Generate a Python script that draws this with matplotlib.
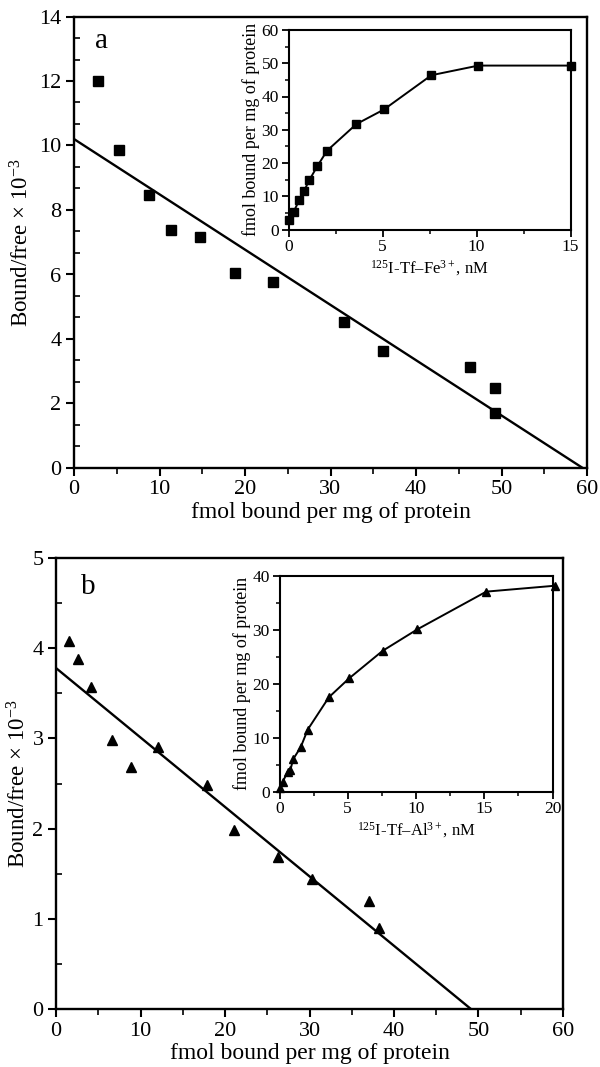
import numpy as np
import matplotlib
matplotlib.use("Agg")
import matplotlib.pyplot as plt
from matplotlib.ticker import MultipleLocator

plt.rcParams['font.family'] = ['Liberation Serif', 'DejaVu Serif']
plt.rcParams['mathtext.fontset'] = 'custom'
plt.rcParams['mathtext.rm'] = 'Liberation Serif'
plt.rcParams['mathtext.it'] = 'Liberation Serif:italic'

#%% data, panel a (Fe)
a_bound = [2.8, 5.3, 8.8, 11.3, 14.7, 18.8, 23.3, 31.6, 36.1, 46.3, 49.2, 49.2]
a_ratio = [12.0, 9.85, 8.45, 7.38, 7.16, 6.05, 5.76, 4.54, 3.64, 3.13, 2.47, 1.71]
a_fit_x = [0, 59.5]
a_fit_y = [10.2, 0]
a_conc = [0.05, 0.27, 0.57, 0.83, 1.1, 1.54, 2.05, 3.61, 5.08, 7.6, 10.1, 15.05]
a_sat = [2.8, 5.3, 8.8, 11.6, 14.8, 19.1, 23.7, 31.7, 36.1, 46.4, 49.3, 49.3]

#%% data, panel b (Al)
b_bound = [1.5, 2.6, 4.2, 6.6, 8.9, 12.1, 17.9, 21.1, 26.3, 30.3, 37.1, 38.2]
b_ratio = [4.08, 3.88, 3.57, 2.98, 2.68, 2.9, 2.48, 1.99, 1.69, 1.44, 1.2, 0.9]
b_fit_x = [0, 49.1]
b_fit_y = [3.78, 0]
b_conc = [0.05, 0.22, 0.6, 0.8, 1.0, 1.55, 2.07, 3.62, 5.1, 7.55, 10.1, 15.15, 20.2]
b_sat = [0.6, 1.7, 3.7, 4.0, 6.0, 8.2, 11.5, 17.5, 21.0, 26.1, 30.1, 37.1, 38.2]

W, H = 600, 1067


def px_axes(fig, x0, y0, x1, y1):
    # pixel box (left, top, right, bottom) -> figure fraction
    return fig.add_axes([x0 / W, 1 - y1 / H, (x1 - x0) / W, (y1 - y0) / H])


def style_main(ax, ymax, ymajor, yminor, ypad):
    ax.set_xlim(0, 60)
    ax.set_ylim(0, ymax)
    ax.xaxis.set_major_locator(MultipleLocator(10))
    ax.xaxis.set_minor_locator(MultipleLocator(5))
    ax.yaxis.set_major_locator(MultipleLocator(ymajor))
    ax.yaxis.set_minor_locator(MultipleLocator(yminor))
    ax.tick_params(which='major', direction='out', length=6, width=1.5,
                   labelsize=16, pad=3)
    ax.tick_params(axis='y', which='minor', direction='in', length=4, width=1.2)
    ax.tick_params(axis='x', which='minor', direction='out', length=4, width=1.2)
    for s in ax.spines.values():
        s.set_linewidth(1.7)
    ax.set_xlabel("fmol bound per mg of protein", fontsize=17, labelpad=2)
    ax.set_ylabel(r"Bound/free $\times$ 10$^{-3}$", fontsize=16.5, labelpad=ypad)


def style_inset(ax, xmax, ymax, xlabel):
    ax.set_xlim(0, xmax)
    ax.set_ylim(0, ymax)
    ax.xaxis.set_major_locator(MultipleLocator(5))
    ax.xaxis.set_minor_locator(MultipleLocator(2.5))
    ax.yaxis.set_major_locator(MultipleLocator(10))
    ax.yaxis.set_minor_locator(MultipleLocator(5))
    ax.tick_params(which='major', direction='out', length=5, width=1.3,
                   labelsize=12.5, pad=2)
    ax.tick_params(which='minor', direction='out', length=3, width=1.1)
    for s in ax.spines.values():
        s.set_linewidth(1.5)
    ax.set_xlabel(xlabel, fontsize=12, labelpad=2)
    ax.set_ylabel("fmol bound per mg of protein", fontsize=13, labelpad=1)


fig = plt.figure(figsize=(6, 10.67), dpi=100)

#%% panel a
ax1 = px_axes(fig, 74, 16.5, 587, 468)
ax1.plot(a_fit_x, a_fit_y, color='black', lw=1.7)
ax1.plot(a_bound, a_ratio, 's', color='black', ms=7.5)
style_main(ax1, 14, 2, 2 / 3, 4)
ax1.text(0.04, 0.975, "a", transform=ax1.transAxes, fontsize=21, va='top')

in1 = px_axes(fig, 288.5, 30, 570.5, 229.5)
in1.plot(a_conc, a_sat, '-s', color='black', lw=1.4, ms=5.5, clip_on=False)
style_inset(in1, 15, 60, r"$^{125}$I-Tf–Fe$^{3+}$, nM")

#%% panel b
ax2 = px_axes(fig, 56, 558, 563, 1009)
ax2.plot(b_fit_x, b_fit_y, color='black', lw=1.7)
ax2.plot(b_bound, b_ratio, '^', color='black', ms=7.5)
style_main(ax2, 5, 1, 0.5, 1)
ax2.text(0.05, 0.965, "b", transform=ax2.transAxes, fontsize=21, va='top')

in2 = px_axes(fig, 279.5, 576, 552.5, 791.5)
in2.plot(b_conc, b_sat, '-^', color='black', lw=1.4, ms=5.5, clip_on=False)
style_inset(in2, 20, 40, r"$^{125}$I-Tf–Al$^{3+}$, nM")

fig.savefig('out.png', dpi=100)
